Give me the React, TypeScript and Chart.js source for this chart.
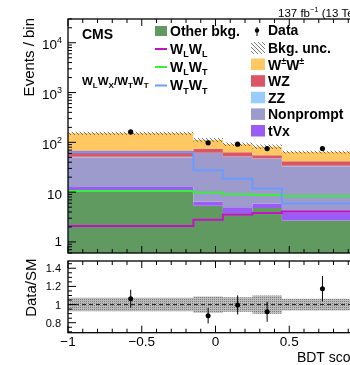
import React, { useEffect, useRef } from "react";
import { Chart, registerables } from "chart.js";
Chart.register(...registerables);

// ---------------- data ----------------
const binEdges = [-1, -0.15, 0.05, 0.25, 0.45, 1.0];
const otherBkg = [10.5, 5.35, 3.76, 4.8, 2.7];
const tVx = [2.2, 1.15, 1.2, 1.14, 1.24];
const nonprompt = [37.5, 54.5, 46, 40.5, 29];
const zz = [1.0, 1.0, 1.0, 1.0, 1.0];
const wz = [17.8, 12.4, 11.0, 7.5, 7.8];
const wpmwpm = [83, 37.6, 29, 27, 22.2];
const wlwl = [2.1, 2.8, 3.55, 3.8, 4.1];
const wlwt = [10.6, 9.8, 9.1, 8.8, 8.4];
const wtwt = [63, 27.6, 18.6, 11.8, 5.9];
const dataCounts = [162, 98, 92, 75, 75];
const bkgUnc = [0.075, 0.09, 0.08, 0.1, 0.065];
const ratioValues = [1.063, 0.877, 0.996, 0.92, 1.175];
const ratioErrors = [0.1, 0.085, 0.105, 0.11, 0.14];
const xTickValues = [-1, -0.5, 0, 0.5, 1];
const xTickLabels = ["\u22121", "\u22120.5", "0", "0.5", "1"];
const ratioTickValues = [0.8, 1.0, 1.2, 1.4];
const ratioTickLabels = ["0.8", "1", "1.2", "1.4"];
const mainTickExps = [0, 1, 2, 3, 4];

// ---------------- style ----------------
const COL = {
  other: "#609a60",
  tvx: "#9b5cf5",
  nonprompt: "#9c9bcc",
  zz: "#99ccff",
  wz: "#dc5565",
  wpmwpm: "#ffc862",
  wlwl: "#c412c4",
  wlwt: "#38ee38",
  wtwt: "#6a9cff",
};
const FONT = '"Liberation Sans", Arial, Helvetica, sans-serif';
const CW = 420;
const H1 = 257;
const H2 = 108;
const X_RIGHT = 363;

type Seg = { t: string; sz: number; dy?: number; bold?: boolean };
function drawRich(ctx: CanvasRenderingContext2D, segs: Seg[], x: number, y: number, align: "left" | "right" | "center" = "left") {
  let total = 0;
  const widths = segs.map((s) => {
    ctx.font = `${s.bold ? "bold " : ""}${s.sz}px ${FONT}`;
    const w = ctx.measureText(s.t).width;
    total += w;
    return w;
  });
  let cx = align === "left" ? x : align === "right" ? x - total : x - total / 2;
  ctx.textAlign = "left";
  ctx.textBaseline = "alphabetic";
  segs.forEach((s, i) => {
    ctx.font = `${s.bold ? "bold " : ""}${s.sz}px ${FONT}`;
    ctx.fillText(s.t, cx, y + (s.dy || 0));
    cx += widths[i];
  });
}

function stepPoints(vals: number[], lead?: number) {
  const pts: { x: number; y: number }[] = [];
  if (lead !== undefined) pts.push({ x: binEdges[0], y: lead });
  vals.forEach((v, i) => pts.push({ x: binEdges[i], y: v }));
  pts.push({ x: binEdges[binEdges.length - 1], y: vals[vals.length - 1] });
  return pts;
}

function makeHatch() {
  const p = document.createElement("canvas");
  p.width = 4;
  p.height = 4;
  const g = p.getContext("2d")!;
  g.strokeStyle = "rgba(60,60,60,0.85)";
  g.lineWidth = 0.8;
  g.beginPath();
  g.moveTo(-1, -1);
  g.lineTo(5, 5);
  g.stroke();
  return g.createPattern(p, "repeat")!;
}

function makeDots() {
  const p = document.createElement("canvas");
  p.width = 2;
  p.height = 2;
  const g = p.getContext("2d")!;
  g.fillStyle = "#bdbdbd";
  g.fillRect(0, 0, 2, 2);
  g.fillStyle = "#7a7a7a";
  g.fillRect(0, 0, 1, 1);
  return g.createPattern(p, "repeat")!;
}

function drawFrame(chart: any, xMaj: number, xMin: number, yTicks: { v: number; major: boolean }[], yMaj: number, yMin: number) {
  const ctx: CanvasRenderingContext2D = chart.ctx;
  const a = chart.chartArea;
  const xs = chart.scales.x;
  const ys = chart.scales.y;
  ctx.save();
  ctx.strokeStyle = "#000";
  ctx.lineWidth = 1;
  ctx.beginPath();
  for (let i = -10; i <= 10; i++) {
    const px = xs.getPixelForValue(i / 10);
    const len = i % 5 === 0 ? xMaj : xMin;
    ctx.moveTo(px, a.bottom);
    ctx.lineTo(px, a.bottom - len);
    ctx.moveTo(px, a.top);
    ctx.lineTo(px, a.top + len);
  }
  yTicks.forEach((t) => {
    const py = ys.getPixelForValue(t.v);
    if (py < a.top - 0.5 || py > a.bottom + 0.5) return;
    const len = t.major ? yMaj : yMin;
    ctx.moveTo(a.left, py);
    ctx.lineTo(a.left + len, py);
    ctx.moveTo(a.right, py);
    ctx.lineTo(a.right - len, py);
  });
  ctx.stroke();
  ctx.lineWidth = 1.3;
  ctx.strokeRect(a.left, a.top, a.right - a.left, a.bottom - a.top);
  ctx.restore();
}

export default function App() {
  const ref1 = useRef<HTMLCanvasElement>(null);
  const ref2 = useRef<HTMLCanvasElement>(null);

  useEffect(() => {
    const hatch = makeHatch();
    const dots = makeDots();
    const n = otherBkg.length;
    const centers = binEdges.slice(0, n).map((e, i) => (e + binEdges[i + 1]) / 2);

    // cumulative stack
    const layers = [
      { vals: otherBkg, color: COL.other },
      { vals: tVx, color: COL.tvx },
      { vals: nonprompt, color: COL.nonprompt },
      { vals: zz, color: COL.zz },
      { vals: wz, color: COL.wz },
      { vals: wpmwpm, color: COL.wpmwpm },
    ];
    let run = new Array(n).fill(0);
    const stackDs: any[] = layers.map((l, idx) => {
      run = run.map((r: number, i: number) => r + l.vals[i]);
      return {
        data: stepPoints(run.slice()),
        stepped: true,
        borderColor: "transparent",
        borderWidth: 0,
        backgroundColor: l.color,
        fill: idx === 0 ? "start" : idx - 1,
        pointRadius: 0,
        order: 30 - idx,
      };
    });
    const total = run.slice();
    const uncLo = total.map((t: number, i: number) => t * (1 - bkgUnc[i]));
    const uncHi = total.map((t: number, i: number) => t * (1 + bkgUnc[i]));

    const lineDs = (vals: number[], color: string, order: number) => ({
      data: stepPoints(vals, 0.01),
      stepped: true,
      borderColor: color,
      borderWidth: 2,
      fill: false,
      pointRadius: 0,
      order,
    });

    const mainDatasets: any[] = [
      ...stackDs,
      { data: stepPoints(uncLo), stepped: true, borderColor: "transparent", borderWidth: 0, fill: false, pointRadius: 0, order: 20 },
      { data: stepPoints(uncHi), stepped: true, borderColor: "transparent", borderWidth: 0, fill: 6, backgroundColor: hatch, pointRadius: 0, order: 19 },
      lineDs(wlwl, COL.wlwl, 5),
      lineDs(wlwt, COL.wlwt, 4),
      lineDs(wtwt, COL.wtwt, 3),
      {
        data: centers.map((c, i) => ({ x: c, y: dataCounts[i] })),
        showLine: false,
        pointRadius: 2.6,
        pointBackgroundColor: "#000",
        pointBorderWidth: 0,
        order: 0,
      },
    ];

    const mainYTicks: { v: number; major: boolean }[] = [];
    for (let e = -1; e <= 4; e++) for (let m = 1; m <= 9; m++) mainYTicks.push({ v: m * Math.pow(10, e), major: m === 1 });

    const mainPlugin = {
      id: "mainDecor",
      afterDraw(chart: any) {
        const ctx: CanvasRenderingContext2D = chart.ctx;
        const ys = chart.scales.y;
        drawFrame(chart, 7, 4, mainYTicks, 8, 4);
        ctx.save();
        ctx.fillStyle = "#000";
        // y tick labels
        mainTickExps.forEach((e) => {
          const py = ys.getPixelForValue(Math.pow(10, e));
          if (e >= 2) drawRich(ctx, [{ t: "10", sz: 13.5 }, { t: String(e), sz: 9, dy: -6 }], 62, py + 6.5, "right");
          else if (e === 1) drawRich(ctx, [{ t: "10", sz: 13.5 }], 62, py + 6.5, "right");
          else drawRich(ctx, [{ t: "1", sz: 13.5 }], 62, py + 4.5, "right");
        });
        // y title
        ctx.save();
        ctx.translate(34, 18);
        ctx.rotate(-Math.PI / 2);
        ctx.font = `15px ${FONT}`;
        ctx.textAlign = "right";
        ctx.textBaseline = "alphabetic";
        ctx.fillText("Events / bin", 0, 0);
        ctx.restore();
        // CMS labels
        drawRich(ctx, [{ t: "CMS", sz: 14, bold: true }], 82, 39);
        drawRich(
          ctx,
          [
            { t: "W", sz: 11.5, bold: true },
            { t: "L", sz: 8, bold: true, dy: 3 },
            { t: "W", sz: 11.5, bold: true },
            { t: "X", sz: 8, bold: true, dy: 3 },
            { t: "/W", sz: 11.5, bold: true },
            { t: "T", sz: 8, bold: true, dy: 3 },
            { t: "W", sz: 11.5, bold: true },
            { t: "T", sz: 8, bold: true, dy: 3 },
          ],
          82,
          84.5
        );
        drawRich(ctx, [{ t: "137 fb", sz: 11.5 }, { t: "\u22121", sz: 7.5, dy: -5 }, { t: " (13 TeV)", sz: 11.5 }], 278, 16.5);

        // legend left column
        const lx = 155;
        const tx = 170;
        ctx.fillStyle = COL.other;
        ctx.fillRect(lx, 26, 12, 10);
        ctx.fillStyle = "#000";
        drawRich(ctx, [{ t: "Other bkg.", sz: 14, bold: true }], tx, 35.5);
        const lineRows: [string, string, number][] = [
          [COL.wlwl, "L", 49],
          [COL.wlwt, "T", 67],
          [COL.wtwt, "T", 85.5],
        ];
        const firstSub = ["L", "L", "T"];
        lineRows.forEach(([c, sub2, y], i) => {
          ctx.strokeStyle = c;
          ctx.lineWidth = 2;
          ctx.beginPath();
          ctx.moveTo(lx, y);
          ctx.lineTo(lx + 12, y);
          ctx.stroke();
          ctx.fillStyle = "#000";
          drawRich(
            ctx,
            [
              { t: "W", sz: 14, bold: true },
              { t: firstSub[i], sz: 9, bold: true, dy: 3.5 },
              { t: "W", sz: 14, bold: true },
              { t: sub2, sz: 9, bold: true, dy: 3.5 },
            ],
            tx,
            y + 4.5
          );
        });

        // legend right column
        const bx = 251;
        const rtx = 268;
        ctx.fillStyle = "#000";
        ctx.beginPath();
        ctx.arc(bx + 6, 30.5, 2.2, 0, Math.PI * 2);
        ctx.fill();
        ctx.strokeStyle = "#000";
        ctx.lineWidth = 1;
        ctx.beginPath();
        ctx.moveTo(bx + 6, 27);
        ctx.lineTo(bx + 6, 36);
        ctx.stroke();
        drawRich(ctx, [{ t: "Data", sz: 14, bold: true }], rtx, 34.5);
        ctx.fillStyle = hatch;
        ctx.fillRect(bx, 42, 14, 12);
        ctx.fillStyle = "#000";
        drawRich(ctx, [{ t: "Bkg. unc.", sz: 14, bold: true }], rtx, 52.8);
        const boxes: [string, Seg[], number][] = [
          [COL.wpmwpm, [{ t: "W", sz: 14, bold: true }, { t: "\u00b1", sz: 9, bold: true, dy: -5.5 }, { t: "W", sz: 14, bold: true }, { t: "\u00b1", sz: 9, bold: true, dy: -5.5 }], 69.5],
          [COL.wz, [{ t: "WZ", sz: 14, bold: true }], 86.2],
          [COL.zz, [{ t: "ZZ", sz: 14, bold: true }], 102.8],
          [COL.nonprompt, [{ t: "Nonprompt", sz: 14, bold: true }], 119.4],
          [COL.tvx, [{ t: "tVx", sz: 14, bold: true }], 136],
        ];
        boxes.forEach(([c, segs, y]) => {
          ctx.fillStyle = c;
          ctx.fillRect(bx, y - 11, 14, 11.5);
          ctx.fillStyle = "#000";
          drawRich(ctx, segs, rtx, y);
        });
        ctx.restore();
      },
    };

    const c1 = new Chart(ref1.current!, {
      type: "line",
      data: { datasets: mainDatasets },
      options: {
        responsive: false,
        animation: false,
        devicePixelRatio: 1,
        layout: { padding: { left: 68, top: 19, right: CW - X_RIGHT, bottom: 1 } },
        scales: {
          x: { type: "linear", min: -1, max: 1, display: false },
          y: { type: "logarithmic", min: 0.6, max: 30000, display: false },
        },
        plugins: { legend: { display: false }, tooltip: { enabled: false }, title: { display: false } },
        elements: { line: { tension: 0 } },
      },
      plugins: [mainPlugin],
    } as any);

    // ---------------- ratio panel ----------------
    const ratioYTicks: { v: number; major: boolean }[] = [];
    for (let k = 12; k <= 30; k++) ratioYTicks.push({ v: k * 0.05, major: k % 4 === 0 });

    const ratioPlugin = {
      id: "ratioDecor",
      afterDatasetsDraw(chart: any) {
        const ctx: CanvasRenderingContext2D = chart.ctx;
        const xs = chart.scales.x;
        const ys = chart.scales.y;
        ctx.save();
        ctx.strokeStyle = "#000";
        ctx.lineWidth = 1;
        ctx.beginPath();
        centers.forEach((c, i) => {
          const px = xs.getPixelForValue(c);
          ctx.moveTo(px, ys.getPixelForValue(ratioValues[i] - ratioErrors[i]));
          ctx.lineTo(px, ys.getPixelForValue(ratioValues[i] + ratioErrors[i]));
        });
        ctx.stroke();
        ctx.restore();
      },
      afterDraw(chart: any) {
        const ctx: CanvasRenderingContext2D = chart.ctx;
        const xs = chart.scales.x;
        const ys = chart.scales.y;
        drawFrame(chart, 7, 4, ratioYTicks, 8, 4);
        ctx.save();
        ctx.fillStyle = "#000";
        ratioTickValues.forEach((v, i) => {
          drawRich(ctx, [{ t: ratioTickLabels[i], sz: 11 }], 61, ys.getPixelForValue(v) + 4, "right");
        });
        xTickValues.forEach((v, i) => {
          drawRich(ctx, [{ t: xTickLabels[i], sz: 13.5 }], xs.getPixelForValue(v), 88.7, "center");
        });
        drawRich(ctx, [{ t: "BDT score", sz: 14 }], X_RIGHT, 104.5, "right");
        ctx.save();
        ctx.translate(36, 1.5);
        ctx.rotate(-Math.PI / 2);
        ctx.font = `15px ${FONT}`;
        ctx.textAlign = "right";
        ctx.textBaseline = "alphabetic";
        ctx.fillText("Data/SM", 0, 0);
        ctx.restore();
        ctx.restore();
      },
    };

    const c2 = new Chart(ref2.current!, {
      type: "line",
      data: {
        datasets: [
          { data: stepPoints(bkgUnc.map((u) => 1 - u)), stepped: true, borderColor: "transparent", borderWidth: 0, fill: false, pointRadius: 0, order: 10 },
          { data: stepPoints(bkgUnc.map((u) => 1 + u)), stepped: true, borderColor: "transparent", borderWidth: 0, fill: 0, backgroundColor: dots, pointRadius: 0, order: 9 },
          { data: [{ x: -1, y: 1 }, { x: 1, y: 1 }], borderColor: "#222", borderWidth: 1, borderDash: [4, 3], fill: false, pointRadius: 0, order: 5 },
          {
            data: centers.map((c, i) => ({ x: c, y: ratioValues[i] })),
            showLine: false,
            pointRadius: 2.5,
            pointBackgroundColor: "#000",
            pointBorderWidth: 0,
            order: 0,
          },
        ],
      },
      options: {
        responsive: false,
        animation: false,
        devicePixelRatio: 1,
        layout: { padding: { left: 68, top: 1.5, right: CW - X_RIGHT, bottom: H2 - 75.7 } },
        scales: {
          x: { type: "linear", min: -1, max: 1, display: false },
          y: { type: "linear", min: 0.69, max: 1.48, display: false },
        },
        plugins: { legend: { display: false }, tooltip: { enabled: false }, title: { display: false } },
      },
      plugins: [ratioPlugin],
    } as any);

    return () => {
      c1.destroy();
      c2.destroy();
    };
  }, []);

  return (
    <div style={{ position: "fixed", left: 0, top: 0, width: 350, height: 365, overflow: "hidden", background: "#fff" }}>
      <canvas ref={ref1} width={CW} height={H1} style={{ position: "absolute", left: 0, top: 0, width: CW, height: H1 }} />
      <canvas ref={ref2} width={CW} height={H2} style={{ position: "absolute", left: 0, top: H1, width: CW, height: H2 }} />
    </div>
  );
}
